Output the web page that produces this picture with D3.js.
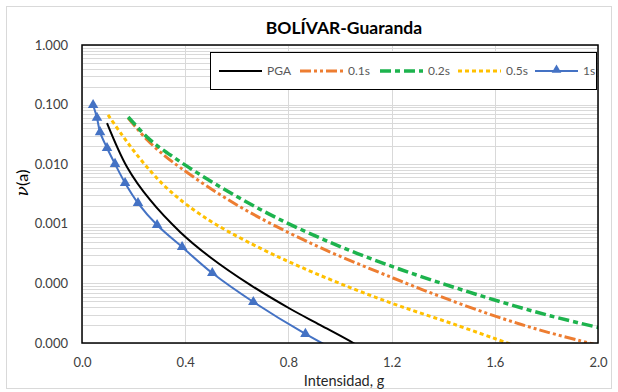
<!DOCTYPE html>
<html>
<head>
<meta charset="utf-8">
<script src="https://cdn.jsdelivr.net/npm/d3@7"></script>
<style>
  body { margin: 0; background: #fff; }
  svg { display: block; font-family: Lato, "Open Sans", sans-serif; }
</style>
</head>
<body>
<svg width="618" height="392"></svg>
<script>
// intensities (g) and annual rates ν(a)
const pgaG = [0.097, 0.175, 0.264, 0.381, 0.497, 0.652, 0.808, 0.924, 1.052, 1.10];
const pgaV = [0.0491, 0.00891, 0.00251, 0.000724, 0.000275, 0.0000944, 0.0000372, 0.00002, 0.00001, 0.0000074];

const t01G = [0.179, 0.252, 0.322, 0.381, 0.485, 0.614, 0.742, 0.924, 1.208, 1.390, 1.596, 1.779, 1.973, 2.012];
const t01V = [0.0596, 0.0257, 0.0137, 0.00875, 0.00427, 0.00191, 0.000957, 0.000397, 0.000122, 0.0000601, 0.0000288, 0.0000163, 0.0000098, 0.0000088];

const t02G = [0.179, 0.264, 0.361, 0.485, 0.614, 0.757, 0.924, 1.068, 1.235, 1.429, 1.623, 1.817, 2.004];
const t02V = [0.0619, 0.0256, 0.01256, 0.00565, 0.00265, 0.00124, 0.000575, 0.000317, 0.000171, 0.0000897, 0.0000491, 0.0000284, 0.0000181];

const t05G = [0.101, 0.155, 0.206, 0.272, 0.334, 0.408, 0.524, 0.703, 0.847, 1.052, 1.235, 1.441, 1.643, 1.70];
const t05V = [0.067, 0.031, 0.01567, 0.00711, 0.00379, 0.002056, 0.000948, 0.000367, 0.000189, 0.0000809, 0.0000412, 0.0000207, 0.0000102, 0.0000084];

const t1G = [0.043, 0.058, 0.070, 0.097, 0.128, 0.167, 0.217, 0.291, 0.388, 0.505, 0.664, 0.866, 1.13];
const t1V = [0.0985, 0.060, 0.0345, 0.0187, 0.0101, 0.00484, 0.00223, 0.000955, 0.000408, 0.000149, 0.0000488, 0.0000142, 0.0000035];

const xTicks = [0, 0.4, 0.8, 1.2, 1.6, 2.0];
const yTicks = [0.00001, 0.0001, 0.001, 0.01, 0.1, 1];

const svg = d3.select("svg"),
      pLeft = 82, pRight = 598, pTop = 45, pBottom = 343;

const x = d3.scaleLinear().domain([0, 2]).range([pLeft, pRight]);
const y = d3.scaleLog().domain([1e-5, 1]).range([pBottom, pTop]);

// outer chart border
svg.append("rect")
  .attr("x", 6.5).attr("y", 6.5).attr("width", 605).attr("height", 382)
  .attr("fill", "#fff").attr("stroke", "#d9d9d9");

// minor + major horizontal grid
const minor = [];
for (let e = -5; e < 0; e++) for (let k = 1; k < 10; k++) minor.push(k * Math.pow(10, e));
minor.push(1);
svg.append("g").selectAll("line").data(minor).join("line")
  .attr("x1", pLeft).attr("x2", pRight)
  .attr("y1", d => Math.round(y(d)) + 0.5).attr("y2", d => Math.round(y(d)) + 0.5)
  .attr("stroke", "#d9d9d9").attr("stroke-width", 1);

svg.append("g").selectAll("line").data(xTicks).join("line")
  .attr("x1", d => Math.round(x(d)) + 0.5).attr("x2", d => Math.round(x(d)) + 0.5)
  .attr("y1", pTop).attr("y2", pBottom)
  .attr("stroke", "#d9d9d9");

// axes
const yAxis = svg.append("g")
  .attr("transform", `translate(${pLeft - 11},0)`)
  .call(d3.axisLeft(y).tickValues(yTicks).tickFormat(d3.format(".3f")).tickSize(0));
yAxis.select(".domain").remove();
yAxis.selectAll("text").attr("font-size", 13).attr("fill", "#404040")
  .attr("font-family", "Lato, sans-serif");

const xAxis = svg.append("g")
  .attr("transform", `translate(0,${pBottom + 12})`)
  .call(d3.axisBottom(x).tickValues(xTicks).tickFormat(d3.format(".1f")).tickSize(0));
xAxis.select(".domain").remove();
xAxis.selectAll("text").attr("font-size", 13).attr("fill", "#404040")
  .attr("font-family", "Lato, sans-serif");

// series
svg.append("clipPath").attr("id", "plot")
  .append("rect").attr("x", pLeft).attr("y", pTop).attr("width", pRight - pLeft).attr("height", pBottom - pTop);

const line = d3.line().x(d => x(d[0])).y(d => y(d[1])).curve(d3.curveCatmullRom.alpha(0.5));
const zip = (a, b) => a.map((v, i) => [v, b[i]]);

const series = [
  {name: "PGA",  pts: zip(pgaG, pgaV), color: "#000000", w: 2,   dash: null},
  {name: "0.1s", pts: zip(t01G, t01V), color: "#ED7D31", w: 3,   dash: "11,3,3,3,3,3"},
  {name: "0.2s", pts: zip(t02G, t02V), color: "#1DB34D", w: 3.5, dash: "11,4,5,4"},
  {name: "0.5s", pts: zip(t05G, t05V), color: "#FFC000", w: 3,   dash: "4,3"},
  {name: "1s",   pts: zip(t1G, t1V),   color: "#4472C4", w: 2,   dash: null, marker: true}
];

const plot = svg.append("g").attr("clip-path", "url(#plot)");
series.forEach(s => {
  plot.append("path")
    .datum(s.pts)
    .attr("fill", "none")
    .attr("stroke", s.color)
    .attr("stroke-width", s.w)
    .attr("stroke-dasharray", s.dash)
    .attr("d", line);
  if (s.marker) {
    plot.selectAll(".tri").data(s.pts).join("path")
      .attr("class", "tri")
      .attr("transform", d => `translate(${x(d[0])},${y(d[1])})`)
      .attr("d", d3.symbol(d3.symbolTriangle, 48))
      .attr("fill", s.color);
  }
});

// plot border
svg.append("rect")
  .attr("x", pLeft).attr("y", pTop).attr("width", pRight - pLeft).attr("height", pBottom - pTop)
  .attr("fill", "none").attr("stroke", "#000").attr("stroke-width", 1.5);

// legend
const lg = svg.append("g");
lg.append("rect")
  .attr("x", 210.5).attr("y", 52.5).attr("width", 386).attr("height", 37)
  .attr("fill", "#fff").attr("stroke", "#000").attr("stroke-width", 1);
const legendX = [219, 300, 380, 458, 535];
series.forEach((s, i) => {
  const lx = legendX[i], ly = 71;
  lg.append("line")
    .attr("x1", lx).attr("x2", lx + 43).attr("y1", ly).attr("y2", ly)
    .attr("stroke", s.color).attr("stroke-width", s.w)
    .attr("stroke-dasharray", s.dash);
  if (s.marker) {
    lg.append("path")
      .attr("transform", `translate(${lx + 21.5},${ly - 1})`)
      .attr("d", d3.symbol(d3.symbolTriangle, 40))
      .attr("fill", s.color);
  }
  lg.append("text")
    .attr("x", lx + 48).attr("y", ly + 4)
    .attr("font-size", 12).attr("fill", "#595959")
    .text(s.name);
});

// title and axis labels
svg.append("text")
  .attr("x", 344).attr("y", 34)
  .attr("text-anchor", "middle")
  .attr("font-size", 17.5).attr("font-weight", "bold").attr("fill", "#000")
  .text("BOLÍVAR-Guaranda");

svg.append("text")
  .attr("x", 344).attr("y", 386)
  .attr("text-anchor", "middle")
  .attr("font-size", 14.5).attr("fill", "#262626")
  .text("Intensidad, g");

const yl = svg.append("text")
  .attr("transform", "translate(28,183) rotate(-90)")
  .attr("text-anchor", "middle")
  .attr("font-size", 17).attr("fill", "#000");
yl.append("tspan").attr("font-family", "DejaVu Serif").attr("font-style", "italic").text("ν");
yl.append("tspan").attr("font-size", 16).text("(a)");
</script>
</body>
</html>
